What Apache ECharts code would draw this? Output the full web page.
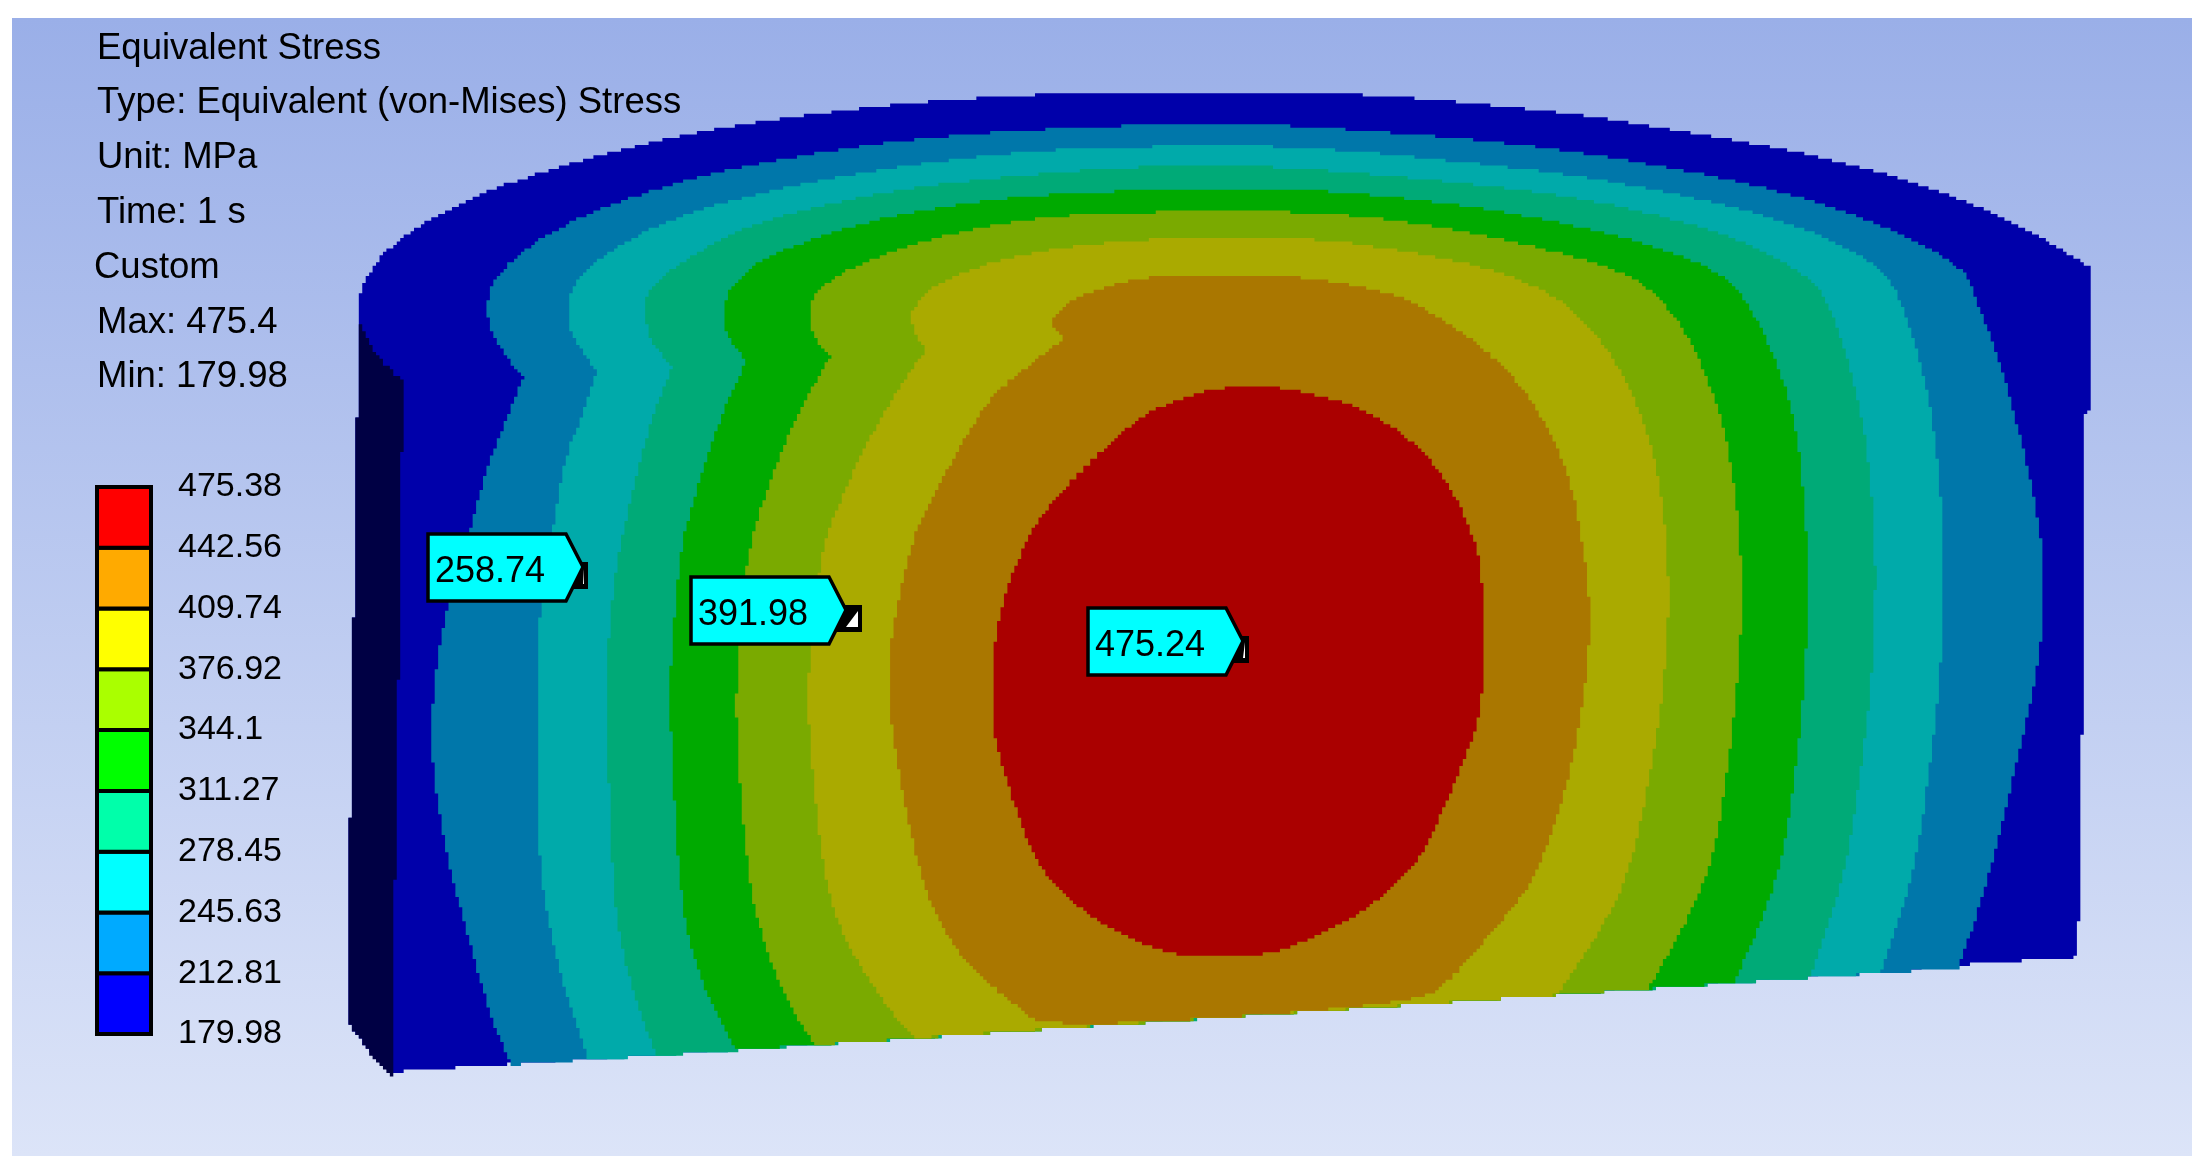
<!DOCTYPE html>
<html>
<head>
<meta charset="utf-8">
<title>Equivalent Stress</title>
<script src="https://cdn.jsdelivr.net/npm/echarts@6/dist/echarts.min.js"></script>
<style>
html,body{margin:0;padding:0;background:#fff;}
#chart{width:2210px;height:1176px;}
</style>
</head>
<body>
<div id="chart"></div>
<script type="text/javascript">
// header text
var headerLines = ['Equivalent Stress','Type: Equivalent (von-Mises) Stress','Unit: MPa','Time: 1 s','Custom','Max: 475.4','Min: 179.98'];

// legend
var legendTicks = [179.98,212.81,245.63,278.45,311.27,344.1,376.92,409.74,442.56,475.38];
var legendColors = ['#0000ff','#00aaff','#00ffff','#00ffaa','#00ff00','#aaff00','#ffff00','#ffaa00','#ff0000'];

// probes
var probeValues = ['258.74','391.98','475.24'];
var probeX = [428,691,1088];
var probeY = [534,577,608];
var probeMark = [17,28,18];

// shaded colours of the contour bands, outside to inside
var bandColors = ['#0000aa','#0077aa','#00aaaa','#00aa77','#00aa00','#7aaa00','#aaaa00','#aa7700','#aa0000'];

// contour outlines
var band0 = [[393,1072],[369,1053],[349,1022],[347,1015],[347,819],[352,819],[352,617],[355,617],[355,420],[359,415],[359,297],[362,287],[369,272],[386,250],[409,232],[443,212],[481,193],[524,178],[581,160],[650,142],[719,128],[805,115],[897,104],[977,98],[1040,94],[1240,93],[1342,93],[1451,101],[1586,115],[1702,135],[1805,153],[1908,180],[1999,215],[2050,243],[2079,260],[2089,268],[2089,412],[2085,413],[2085,580],[2078,957]];
var band1 = [[512,1065],[492,1021],[467,932],[449,866],[440,817],[434,777],[431,736],[434,683],[440,642],[449,601],[471,528],[487,466],[506,420],[523,377],[512,363],[495,340],[486,313],[489,290],[501,270],[532,243],[570,222],[616,202],[696,177],[776,160],[885,142],[992,132],[1126,125],[1264,124],[1355,130],[1483,140],[1612,157],[1748,183],[1844,210],[1928,247],[1967,273],[1976,300],[1992,340],[2005,380],[2018,430],[2031,480],[2041,540],[2045,580],[2040,660],[2020,750],[1989,880],[1959,968]];
var band2 = [[589,1060],[560,976],[540,879],[537,777],[537,654],[540,613],[555,515],[567,450],[581,420],[597,370],[572,337],[567,307],[575,280],[610,250],[667,220],[742,197],[834,177],[943,160],[1069,148],[1245,145],[1342,150],[1445,160],[1574,175],[1683,195],[1793,223],[1870,260],[1892,282],[1908,320],[1925,380],[1934,430],[1941,497],[1945,580],[1940,680],[1930,770],[1913,880],[1881,973]];
var band3 = [[656,1056],[627,973],[613,900],[606,695],[610,613],[620,544],[650,420],[672,367],[650,340],[644,307],[650,287],[679,263],[742,227],[822,205],[914,187],[1023,175],[1144,166],[1271,166],[1380,175],[1509,188],[1619,205],[1735,237],[1809,277],[1825,297],[1844,347],[1857,397],[1867,447],[1873,513],[1876,580],[1872,680],[1860,780],[1844,880],[1810,978]];
var band4 = [[736,1050],[713,1007],[690,947],[679,880],[670,720],[670,680],[674,620],[677,587],[680,557],[687,520],[719,420],[746,360],[727,337],[722,313],[730,287],[759,260],[816,237],[885,217],[983,200],[1086,192],[1264,187],[1380,195],[1516,213],[1638,240],[1715,270],[1741,293],[1767,340],[1789,397],[1799,447],[1805,513],[1809,580],[1805,680],[1795,780],[1779,880],[1735,983]];
var band5 = [[816,1045],[788,1003],[765,947],[748,880],[735,720],[739,647],[745,577],[749,553],[756,520],[793,420],[831,355],[814,337],[808,313],[816,290],[845,270],[914,243],[1000,223],[1086,213],[1297,210],[1419,223],[1522,243],[1619,270],[1660,297],[1690,340],[1715,397],[1728,447],[1738,513],[1742,580],[1740,660],[1728,770],[1710,880],[1649,989]];
var band6 = [[914,1038],[880,997],[845,940],[824,880],[807,720],[810,647],[821,557],[831,520],[877,420],[926,348],[914,333],[910,313],[926,290],[966,270],[1029,252],[1144,238],[1303,237],[1400,250],[1490,268],[1554,295],[1586,323],[1619,367],[1644,420],[1660,480],[1670,580],[1665,680],[1650,780],[1628,880],[1591,947],[1557,995]];
var band7 = [[1050,1029],[1017,1007],[971,967],[948,937],[920,880],[889,720],[889,660],[893,630],[901,587],[909,553],[920,520],[974,420],[1000,387],[1064,338],[1051,323],[1055,313],[1075,297],[1126,280],[1172,275],[1297,275],[1393,293],[1425,310],[1470,337],[1516,380],[1548,427],[1574,490],[1588,580],[1591,640],[1575,760],[1537,880],[1488,937],[1454,977],[1421,1004]];
var band8 = [[1181,957],[1132,940],[1086,913],[1050,880],[1028,845],[1000,760],[992,720],[992,663],[996,633],[1006,587],[1019,557],[1036,520],[1085,465],[1135,420],[1167,403],[1200,393],[1219,388],[1261,385],[1303,392],[1348,403],[1393,427],[1425,453],[1458,500],[1477,547],[1482,580],[1486,640],[1480,720],[1464,760],[1429,845],[1402,880],[1362,913],[1316,937],[1264,957]];
var sideFace = [[361,323],[373,353],[402,382],[403,450],[399,474],[399,679],[396,679],[396,881],[393,881],[393,1076],[390,1076],[369,1053],[349,1022],[347,1015],[347,819],[352,819],[352,617],[355,617],[355,420],[359,415],[359,323]];

var bands = [band0,band1,band2,band3,band4,band5,band6,band7,band8];
var labelFont = '"Liberation Sans", sans-serif';
var PIXEL = 3.45; // the screenshot was enlarged, one source pixel is about this wide

// round the gentle corners only, the kinks at the rim stay sharp
function roundCorners(pts){
	var out = [];
	var n = pts.length;
	for(var i=0;i<n;i++){
		var a = pts[(i+n-1)%n], b = pts[i], c = pts[(i+1)%n];
		var t1 = Math.atan2(b[1]-a[1],b[0]-a[0]);
		var t2 = Math.atan2(c[1]-b[1],c[0]-b[0]);
		var turn = Math.abs(t2-t1);
		if(turn > Math.PI) turn = 2*Math.PI-turn;
		if(turn > 0.7){
			out.push(b);
		}else{
			out.push([b[0]*0.75+a[0]*0.25,b[1]*0.75+a[1]*0.25]);
			out.push([b[0]*0.75+c[0]*0.25,b[1]*0.75+c[1]*0.25]);
		}
	}
	return out;
}

// turn a closed outline into the blocky edge of the enlarged screenshot
function blocky(pts){
	var out = [];
	var last = null;
	function add(x,y){
		if(last && last[0] === x && last[1] === y) return;
		if(last && last[0] !== x && last[1] !== y) out.push([x,last[1]]);
		last = [x,y];
		out.push(last);
	}
	for(var i=0;i<pts.length;i++){
		var a = pts[i], b = pts[(i+1)%pts.length];
		var len = Math.max(Math.abs(b[0]-a[0]),Math.abs(b[1]-a[1]));
		var steps = Math.max(1,Math.ceil(len/1.5));
		for(var s=0;s<steps;s++){
			var x = a[0]+(b[0]-a[0])*s/steps;
			var y = a[1]+(b[1]-a[1])*s/steps;
			add(Math.round(x/PIXEL)*PIXEL,Math.round(y/PIXEL)*PIXEL);
		}
	}
	return out;
}

var myChart = echarts.init(document.getElementById('chart'), null, {renderer:'canvas'});

function polygonItem(outline, color, api){
	var pts = blocky(roundCorners(roundCorners(outline)));
	return {
		type:'polygon',
		shape:{points:pts.map(function(p){ return api.coord(p); })},
		style:{fill:color}
	};
}

var headerText = headerLines.map(function(line, i){
	return {
		type:'text',
		left:(line === 'Custom') ? 94 : 97,
		top:30 + i * 54.8,
		z:100,
		style:{text:line, fill:'#000', font:'36.5px ' + labelFont}
	};
});

var option = {
	animation:false,
	backgroundColor:'#fff',
	graphic:[{
		type:'rect',
		z:-10,
		shape:{x:12,y:18,width:2180,height:1138},
		style:{fill:new echarts.graphic.LinearGradient(0,0,0,1,[{offset:0,color:'#9aafe8'},{offset:1,color:'#dce4f8'}])}
	}].concat(headerText),
	grid:[
		{left:0,top:0,right:0,bottom:0},
		{left:97,top:487,width:54,height:547}
	],
	xAxis:[
		{type:'value',gridIndex:0,min:0,max:2210,show:false},
		{type:'value',gridIndex:1,min:0,max:1,show:false}
	],
	yAxis:[
		{type:'value',gridIndex:0,min:0,max:1176,inverse:true,show:false},
		{
			type:'value',gridIndex:1,position:'right',min:179.98,max:475.38,
			axisLine:{show:false},axisTick:{show:false},splitLine:{show:false},
			axisLabel:{
				customValues:legendTicks,
				margin:27,
				color:'#000',
				fontSize:34,
				fontFamily:'Liberation Sans',
				formatter:function(v){ return String(v); }
			}
		}
	],
	series:[
		{
			type:'custom',
			xAxisIndex:0,yAxisIndex:0,
			silent:true,clip:false,z:2,
			data:bands.map(function(b,i){ return [i]; }),
			renderItem:function(params, api){
				var i = api.value(0);
				return polygonItem(bands[i], bandColors[i], api);
			}
		},
		{
			type:'custom',
			xAxisIndex:0,yAxisIndex:0,
			silent:true,clip:false,z:3,
			data:[[0]],
			renderItem:function(params, api){
				return polygonItem(sideFace, '#000044', api);
			}
		},
		{
			// colour legend
			type:'custom',
			xAxisIndex:1,yAxisIndex:1,
			silent:true,clip:false,z:4,
			data:legendColors.map(function(c,i){ return [legendTicks[i],legendTicks[i+1]]; }),
			renderItem:function(params, api){
				var lo = api.coord([0,api.value(0)]);
				var hi = api.coord([1,api.value(1)]);
				return {
					type:'rect',
					shape:{x:lo[0],y:hi[1],width:hi[0]-lo[0],height:lo[1]-hi[1]},
					style:{fill:legendColors[params.dataIndex],stroke:'#000',lineWidth:4}
				};
			}
		},
		{
			// probe tags
			type:'custom',
			xAxisIndex:0,yAxisIndex:0,
			silent:true,clip:false,z:5,
			data:probeValues.map(function(v,i){ return [probeX[i],probeY[i],probeMark[i]]; }),
			renderItem:function(params, api){
				var p = api.coord([api.value(0),api.value(1)]);
				var m = api.value(2);
				return {
					type:'group',
					x:p[0],y:p[1],
					children:[
						{type:'rect',shape:{x:143,y:28,width:m,height:27},style:{fill:'#000'}},
						{type:'polygon',shape:{points:[[155,50],[143+m-4,50],[143+m-4,34]]},style:{fill:'#fff'}},
						{type:'polygon',shape:{points:[[0,0],[138,0],[155,33],[138,67],[0,67]]},style:{fill:'#00ffff',stroke:'#000',lineWidth:3.5}},
						{type:'text',x:7,y:38,style:{text:probeValues[params.dataIndex],fill:'#000',font:'36px ' + labelFont,textVerticalAlign:'middle'}}
					]
				};
			}
		}
	]
};
myChart.setOption(option);
</script>
</body>
</html>
